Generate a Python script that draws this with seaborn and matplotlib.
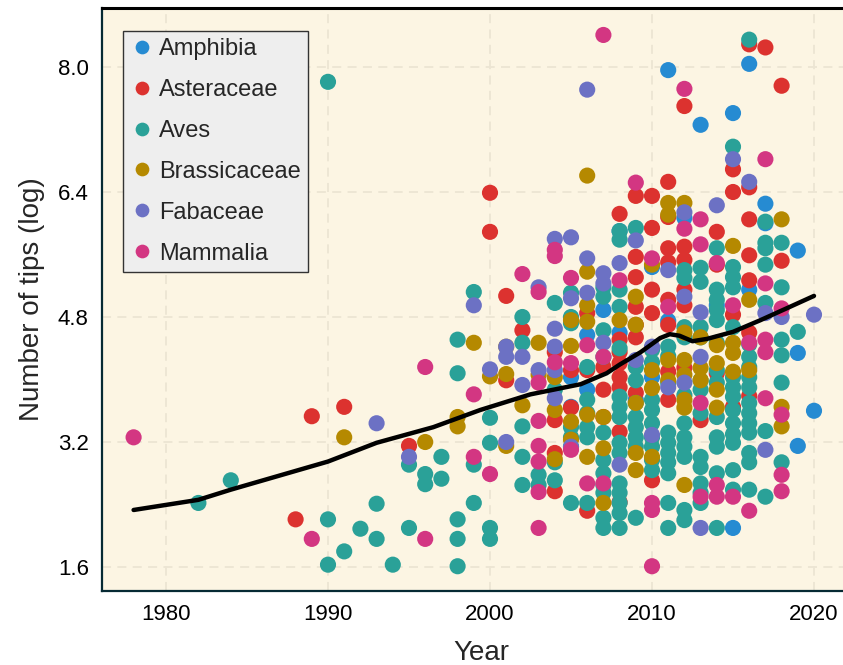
import matplotlib
matplotlib.use("Agg")
import matplotlib.pyplot as plt
import seaborn as sns
import pandas as pd

# ---------------- data (log number of tips by publication year) ----------------
taxa = ["Amphibia", "Asteraceae", "Aves", "Brassicaceae", "Fabaceae", "Mammalia"]
colors = ["#268BD2", "#DC322F", "#2AA198", "#B58900", "#6C71C4", "#D33682"]

amphibia_year = [2005, 2005, 2006, 2006, 2007, 2008, 2008, 2009, 2010, 2010, 2011, 2011,
                 2012, 2013, 2014, 2015, 2015, 2016, 2016, 2017, 2017, 2019, 2019, 2019, 2020]
amphibia_logtips = [4.03, 3.65, 4.57, 3.87, 4.89, 5.90, 4.60, 3.74, 5.44, 4.03, 7.96, 4.75,
                    6.07, 7.26, 4.95, 7.41, 2.10, 8.04, 5.15, 6.25, 6.00, 5.65, 4.34, 3.15, 3.60]

asteraceae_year = [1988, 1989, 1991, 1995, 2000, 2000, 2001, 2001, 2002,
                   2004, 2004, 2004, 2004, 2005, 2005, 2006, 2006, 2006,
                   2007, 2007, 2007, 2008, 2008, 2008, 2008, 2008, 2008, 2008, 2008,
                   2009, 2009, 2009, 2009, 2009, 2009, 2009,
                   2010, 2010, 2010, 2010, 2010,
                   2011, 2011, 2011, 2011, 2011, 2011, 2011, 2011,
                   2012, 2012, 2012, 2012, 2012, 2012, 2013,
                   2014, 2014, 2014, 2015, 2015, 2015, 2015,
                   2016, 2016, 2016, 2016, 2016, 2016, 2016,
                   2017, 2018, 2018]
asteraceae_logtips = [2.21, 3.53, 3.65, 3.15, 6.39, 5.89, 5.07, 3.99, 4.63,
                      4.35, 3.48, 3.06, 2.57, 4.12, 3.64, 4.85, 4.12, 2.32,
                      4.16, 3.87, 3.52, 6.12, 4.51, 4.35, 4.21, 4.03, 3.90, 3.33, 2.43,
                      6.35, 5.57, 5.31, 4.93, 4.70, 4.54, 3.83,
                      6.35, 5.94, 5.15, 4.85, 2.71,
                      6.53, 6.08, 5.68, 5.50, 5.02, 4.70, 4.10, 3.74,
                      7.50, 5.70, 5.53, 5.15, 4.95, 4.15, 3.48,
                      5.89, 5.47, 4.08, 6.69, 6.40, 4.83, 3.65,
                      8.29, 6.46, 6.05, 5.59, 5.27, 4.60, 3.79,
                      8.25, 7.76, 5.52]

aves_year = [1982, 1984, 1990, 1990, 1990, 1991, 1992, 1993, 1993, 1994, 1995, 1995,
             1996, 1996, 1997, 1997, 1998, 1998, 1998, 1998, 1998, 1999, 1999, 1999,
             2000, 2000, 2000, 2000,
             2002, 2002, 2002, 2002, 2002, 2003, 2003,
             2004, 2004, 2004, 2004,
             2005, 2005, 2005, 2005, 2005, 2005, 2005,
             2006, 2006, 2006, 2006, 2006, 2006,
             2007, 2007, 2007, 2007, 2007, 2007, 2007, 2007, 2007, 2007, 2007,
             2008, 2008, 2008, 2008, 2008, 2008, 2008, 2008, 2008, 2008, 2008, 2008, 2008, 2008, 2008,
             2009, 2009, 2009, 2009, 2009, 2009, 2009, 2009, 2009,
             2010, 2010, 2010, 2010, 2010, 2010, 2010, 2010, 2010,
             2011, 2011, 2011, 2011, 2011, 2011, 2011, 2011, 2011, 2011,
             2012, 2012, 2012, 2012, 2012, 2012, 2012, 2012, 2012, 2012, 2012,
             2013, 2013, 2013, 2013, 2013, 2013, 2013, 2013, 2013, 2013, 2013, 2013,
             2014, 2014, 2014, 2014, 2014, 2014, 2014, 2014, 2014, 2014, 2014, 2014, 2014,
             2015, 2015, 2015, 2015, 2015, 2015, 2015, 2015, 2015, 2015, 2015, 2015, 2015, 2015,
             2016, 2016, 2016, 2016, 2016, 2016, 2016, 2016, 2016, 2016, 2016, 2016, 2016,
             2017, 2017, 2017, 2017, 2017, 2017, 2017,
             2018, 2018, 2018, 2018, 2018, 2018, 2019]
aves_logtips = [2.42, 2.71, 7.81, 2.21, 1.63, 1.80, 2.09, 2.41, 1.96, 1.63, 2.91, 2.10,
                2.79, 2.66, 3.01, 2.73, 4.51, 4.08, 2.21, 1.96, 1.61, 5.12, 2.91, 2.42,
                3.51, 3.19, 2.10, 1.96,
                4.80, 4.47, 3.40, 3.01, 2.65, 2.78, 2.65,
                4.98, 3.87, 2.94, 2.71,
                5.11, 4.80, 4.72, 3.39, 3.26, 3.14, 2.42,
                4.16, 3.74, 3.57, 3.39, 3.26, 2.42,
                5.18, 5.06, 4.63, 4.29, 3.32, 2.97, 2.80, 2.65, 2.55, 2.23, 2.10,
                5.90, 5.79, 5.15, 4.93, 4.40, 3.78, 3.65, 3.52, 3.19, 3.06, 2.67, 2.55, 2.42, 2.29, 2.10,
                5.94, 4.16, 3.99, 3.70, 3.52, 3.39, 3.26, 3.14, 2.23,
                4.38, 4.22, 3.74, 3.61, 3.44, 3.26, 3.14, 2.97, 2.84,
                4.42, 3.96, 3.32, 3.19, 3.06, 2.94, 2.80, 2.42, 2.10, 4.30,
                5.40, 5.30, 4.67, 4.54, 3.44, 3.26, 3.14, 3.01, 2.33, 2.20, 3.80,
                5.43, 5.25, 4.67, 4.54, 3.99, 3.87, 3.57, 3.01, 2.88, 2.67, 2.55, 2.42,
                5.68, 5.15, 5.02, 4.89, 4.76, 4.47, 4.12, 3.96, 3.52, 3.26, 3.14, 2.80, 2.10,
                6.98, 5.44, 5.31, 5.18, 4.67, 4.03, 3.90, 3.78, 3.61, 3.44, 3.19, 2.84, 2.59, 3.30,
                8.35, 4.29, 4.16, 4.03, 3.90, 3.70, 3.57, 3.44, 3.32, 3.06, 2.94, 2.59, 4.45,
                6.02, 5.75, 5.68, 5.47, 4.98, 3.34, 2.50,
                5.75, 5.18, 4.51, 4.31, 3.96, 2.94, 4.61]

brassicaceae_year = [1991, 1996, 1998, 1998, 1999, 2000, 2001, 2001, 2001, 2002,
                     2003, 2003, 2004, 2004, 2004, 2005, 2005, 2005, 2005,
                     2006, 2006, 2006, 2006, 2006, 2006, 2007, 2007, 2007, 2008,
                     2009, 2009, 2009, 2009, 2009, 2010, 2010, 2010, 2010,
                     2011, 2011, 2011, 2011, 2012, 2012, 2012, 2012, 2012, 2012, 2012,
                     2013, 2013, 2013, 2014, 2014, 2014, 2014, 2015, 2015, 2015, 2015,
                     2016, 2016, 2018, 2018, 2018]
brassicaceae_logtips = [3.26, 3.20, 3.52, 3.40, 4.47, 4.04, 4.42, 4.07, 3.15, 3.67,
                        4.47, 4.06, 4.03, 3.61, 2.98, 4.76, 4.43, 3.46, 3.23,
                        6.61, 5.38, 4.95, 4.74, 3.55, 3.01, 3.52, 3.12, 2.42, 4.76,
                        5.06, 4.70, 3.70, 3.06, 2.84, 5.47, 4.12, 3.89, 3.01,
                        6.26, 6.11, 4.25, 3.99, 6.26, 4.60, 4.25, 4.06, 3.74, 3.64, 2.65,
                        4.54, 4.15, 3.99, 4.44, 4.21, 3.87, 3.64, 5.71, 4.47, 4.34, 4.10,
                        5.02, 4.12, 6.05, 3.65, 3.40]

fabaceae_year = [1993, 1995, 1999, 2000, 2001, 2001, 2001, 2002, 2002, 2003, 2003,
                 2004, 2004, 2004, 2004, 2004, 2005, 2005, 2005, 2006, 2006, 2006,
                 2007, 2007, 2007, 2008, 2008, 2009, 2009, 2010, 2010, 2011, 2011,
                 2012, 2012, 2012, 2013, 2013, 2013, 2014, 2015, 2016, 2017, 2017, 2018, 2020]
fabaceae_logtips = [3.44, 3.01, 4.95, 4.13, 4.42, 4.29, 3.20, 4.29, 3.93, 5.18, 4.12,
                    5.80, 4.65, 4.42, 4.12, 3.76, 5.82, 5.04, 3.14, 7.71, 5.55, 5.11,
                    5.36, 5.23, 4.47, 5.49, 2.91, 5.78, 4.25, 4.42, 3.29, 5.40, 3.90,
                    6.14, 5.06, 3.96, 4.86, 4.29, 2.10, 6.23, 6.82, 6.53, 4.85, 3.10, 4.80, 4.83]

mammalia_year = [1978, 1989, 1996, 1996, 1999, 1999, 2000, 2002,
                 2003, 2003, 2003, 2003, 2003, 2003, 2003, 2004, 2004, 2004,
                 2005, 2005, 2005, 2006, 2006, 2007, 2007, 2007, 2008, 2009,
                 2010, 2010, 2010, 2010, 2011, 2012, 2012, 2013, 2013, 2013, 2013,
                 2014, 2014, 2014, 2015, 2015, 2016, 2016,
                 2017, 2017, 2017, 2017, 2017, 2018, 2018, 2018, 2018]
mammalia_logtips = [3.26, 1.96, 4.16, 1.96, 3.81, 3.01, 2.79, 5.35,
                    5.12, 3.96, 3.47, 3.15, 2.95, 2.56, 2.10, 5.66, 5.58, 4.22,
                    5.30, 4.21, 3.10, 4.44, 2.67, 8.41, 4.29, 2.67, 5.27, 6.52,
                    5.55, 2.42, 2.33, 1.61, 4.93, 7.72, 5.93, 6.05, 5.73, 3.70, 2.50,
                    5.49, 2.65, 2.50, 4.95, 2.50, 4.47, 2.32,
                    6.82, 5.23, 4.51, 4.35, 3.76, 4.91, 3.55, 2.78, 2.57]

# smoothed trend
trend_year = [1978, 1982, 1984, 1990, 1993, 1996.5, 1999.4, 2002.5, 2005.6, 2007.2, 2008.0,
              2009.3, 2010.5, 2011.1, 2011.7, 2012.5, 2013.4, 2015.0, 2016.7, 2018.3, 2020.0]
trend_logtips = [2.33, 2.46, 2.59, 2.95, 3.19, 3.39, 3.61, 3.81, 3.94, 4.08, 4.19,
                 4.35, 4.53, 4.58, 4.56, 4.49, 4.52, 4.61, 4.76, 4.91, 5.07]

x_ticks = [1980, 1990, 2000, 2010, 2020]
y_ticks = [1.6, 3.2, 4.8, 6.4, 8.0]

# ---------------- build table ----------------
frames = []
for name, yr, lt in [("Amphibia", amphibia_year, amphibia_logtips),
                     ("Asteraceae", asteraceae_year, asteraceae_logtips),
                     ("Aves", aves_year, aves_logtips),
                     ("Brassicaceae", brassicaceae_year, brassicaceae_logtips),
                     ("Fabaceae", fabaceae_year, fabaceae_logtips),
                     ("Mammalia", mammalia_year, mammalia_logtips)]:
    frames.append(pd.DataFrame({"Year": yr, "logtips": lt, "taxon": name}))
df = pd.concat(frames, ignore_index=True)
trend = pd.DataFrame({"Year": trend_year, "logtips": trend_logtips})

# ---------------- plot ----------------
sns.set_style("white")
plt.rcParams["font.family"] = ["Liberation Sans", "DejaVu Sans"]

W, H = 843, 665
fig = plt.figure(figsize=(W / 100, H / 100), dpi=100)
left_px, right_px, top_px, bottom_px = 102, 860, 8, 591
ax = fig.add_axes([left_px / W, 1 - bottom_px / H,
                   (right_px - left_px) / W, (bottom_px - top_px) / H])
ax.set_facecolor("#FCF5E3")

sns.scatterplot(data=df, x="Year", y="logtips", hue="taxon", hue_order=taxa,
                palette=colors, s=135, linewidth=0, alpha=1, ax=ax, zorder=3)
sns.lineplot(data=trend, x="Year", y="logtips", color="black", linewidth=3.2,
             estimator=None, sort=False, ax=ax, zorder=4)

px_per_year = 16.2
ax.set_xlim(1980 + (left_px - 166) / px_per_year, 1980 + (right_px - 166) / px_per_year)
ax.set_ylim(1.293, 8.755)
ax.set_xticks(x_ticks)
ax.set_yticks(y_ticks)
ax.set_yticklabels([f"{v:.1f}" for v in y_ticks])
ax.grid(True, color="#ECE5D3", linestyle=(0, (5, 3.5)), linewidth=1.3, zorder=0)
ax.set_axisbelow(True)

for sp in ax.spines.values():
    sp.set_color("#062A33")
    sp.set_linewidth(1.6)
ax.spines["top"].set_color("black")
ax.spines["top"].set_linewidth(2.2)
ax.spines["right"].set_visible(False)

ax.tick_params(axis="both", direction="out", length=5, width=1.5, color="#0B3440",
               labelsize=16, pad=4.5, labelcolor="black")
ax.set_xlabel("Year", fontsize=20, labelpad=11)
ax.set_ylabel("Number of tips (log)", fontsize=20, labelpad=9)

handles, labels = ax.get_legend_handles_labels()
leg = ax.legend(handles, labels, loc="upper left",
                bbox_to_anchor=((123 - left_px) / (right_px - left_px), (bottom_px - 31) / (bottom_px - top_px)),
                borderaxespad=0, fontsize=17, frameon=True, fancybox=False, framealpha=1,
                facecolor="#EEEEEE", edgecolor="#333333", labelspacing=0.80,
                handletextpad=0.22, borderpad=0.3, markerscale=0.85, handlelength=1.0)
leg.get_frame().set_linewidth(1.0)

fig.savefig("out.png", dpi=100)
